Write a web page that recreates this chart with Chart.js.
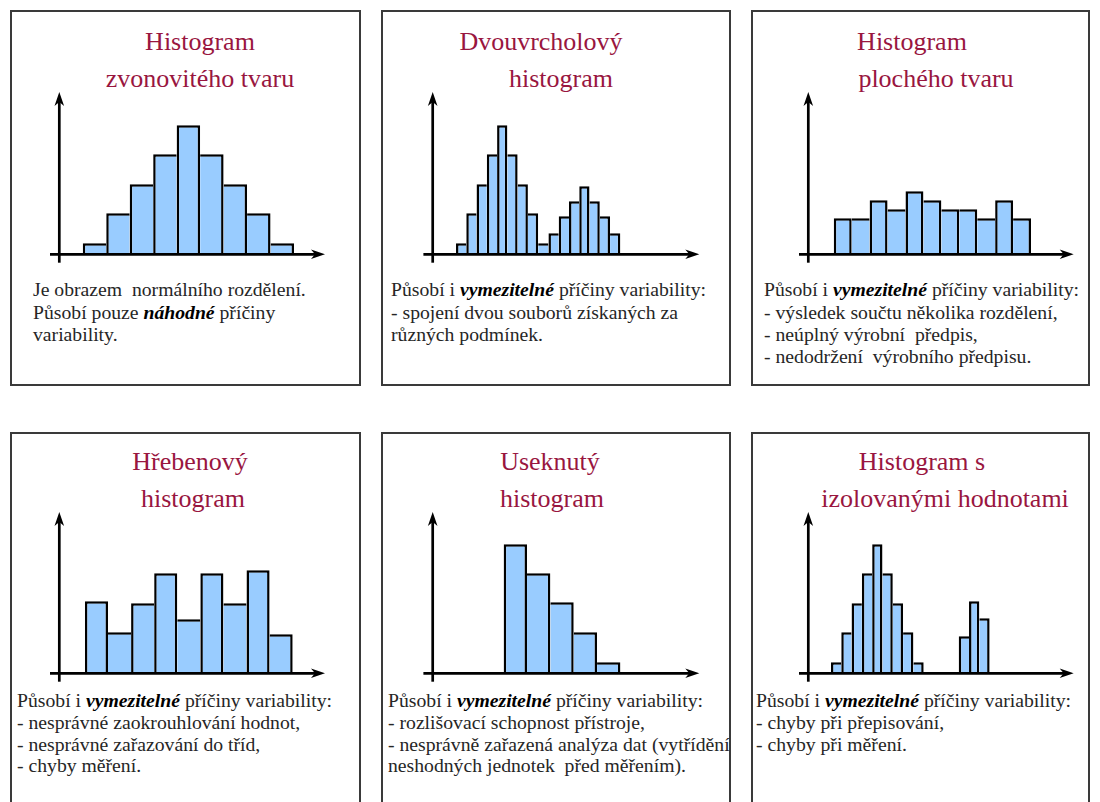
<!DOCTYPE html>
<html>
<head>
<meta charset="utf-8">
<script src="https://cdn.jsdelivr.net/npm/chart.js@4.4.1/dist/chart.umd.min.js"></script>
<style>
html,body{margin:0;padding:0;background:#fff;}
#page{position:relative;width:1100px;height:802px;overflow:hidden;font-family:'Liberation Serif','DejaVu Serif','Times New Roman',Times,serif;}
.box{position:absolute;border:2px solid #3a3a3a;box-sizing:border-box;}
.tline{position:absolute;color:#99163f;font-size:26px;line-height:37px;text-align:center;white-space:nowrap;width:400px;}
.desc{position:absolute;color:#262626;font-size:19.7px;white-space:nowrap;}
.desc b{font-style:italic;color:#000;}
canvas{position:absolute;}
</style>
</head>
<body>
<div id="page"></div>
<script>
// ---------- data ----------
const titles = [
  ["Histogram", "zvonovitého tvaru"],
  ["Dvouvrcholový", "histogram"],
  ["Histogram", "plochého tvaru"],
  ["Hřebenový", "histogram"],
  ["Useknutý", "histogram"],
  ["Histogram s", "izolovanými hodnotami"]
];
const descriptions = [
  ["Je obrazem  normálního rozdělení.", "Působí pouze *náhodné* příčiny", "variability."],
  ["Působí i *vymezitelné* příčiny variability:", "- spojení dvou souborů získaných za", "různých podmínek."],
  ["Působí i *vymezitelné* příčiny variability:", "- výsledek součtu několika rozdělení,", "- neúplný výrobní  předpis,", "- nedodržení  výrobního předpisu."],
  ["Působí i *vymezitelné* příčiny variability:", "- nesprávné zaokrouhlování hodnot,", "- nesprávné zařazování do tříd,", "- chyby měření."],
  ["Působí i *vymezitelné* příčiny variability:", "- rozlišovací schopnost přístroje,", "- nesprávně zařazená analýza dat (vytřídění", "neshodných jednotek  před měřením)."],
  ["Působí i *vymezitelné* příčiny variability:", "- chyby při přepisování,", "- chyby při měření."]
];
// class positions (bin centres) and frequencies
const bins1 = [1, 2, 3, 4, 5, 6, 7, 8, 9];
const freq1 = [11, 41, 70, 100, 129, 100, 70, 41, 11];
const bins2 = [1, 2, 3, 4, 5, 6, 7, 8, 9, 10, 11, 12, 13, 14, 15, 16];
const freq2 = [11, 41, 70, 100, 129, 100, 70, 41, 11, 21, 38, 53, 68, 53, 38, 21];
const bins3 = [1, 2, 3, 4, 5, 6, 7, 8, 9, 10, 11];
const freq3 = [36, 36, 54, 45, 63, 54, 45, 45, 36, 54, 36];
const bins4 = [1, 2, 3, 4, 5, 6, 7, 8, 9];
const freq4 = [72, 41, 70, 100, 54, 100, 70, 103, 39];
const bins5 = [1, 2, 3, 4, 5];
const freq5 = [129, 100, 71, 41, 11];
const bins6 = [1, 2, 3, 4, 5, 6, 7, 8, 9, 13.4, 14.4, 15.4];
const freq6 = [11, 41, 70, 100, 129, 100, 70, 41, 11, 37, 72, 55];

const series = [[bins1, freq1], [bins2, freq2], [bins3, freq3], [bins4, freq4], [bins5, freq5], [bins6, freq6]];

// ---------- layout ----------
const boxes = [
  {l: 10, t: 10, w: 351, h: 376}, {l: 381, t: 10, w: 350, h: 376}, {l: 751, t: 10, w: 339, h: 376},
  {l: 10, t: 432, w: 351, h: 380}, {l: 381, t: 432, w: 350, h: 380}, {l: 751, t: 432, w: 339, h: 380}
];
// centre x of each title line, top of first line
const titlePos = [
  {cx: [200, 200], t: 23}, {cx: [541, 561], t: 23}, {cx: [912, 936], t: 23},
  {cx: [190, 193], t: 443}, {cx: [550, 552], t: 443}, {cx: [922, 945], t: 443}
];
const descPos = [
  {l: 33, t: 278.3, lh: 22.5}, {l: 391, t: 278.3, lh: 22.5}, {l: 764, t: 278.3, lh: 22.3},
  {l: 17, t: 690, lh: 21.8}, {l: 388, t: 690, lh: 21.8}, {l: 756, t: 690, lh: 21.8}
];
// canvas rectangles, axis origin (ax, base), arrow tips (tipX, tipY), x range
const plots = [
  {l: 10, t: 85, w: 351, h: 185, ax: 59.3, base: 254.3, tipX: 325, tipY: 92, xmin: -0.5, xmax: 10.82},
  {l: 381, t: 85, w: 350, h: 185, ax: 432.7, base: 254.3, tipX: 699.3, tipY: 92, xmin: -1.77, xmax: 24.19},
  {l: 751, t: 85, w: 339, h: 185, ax: 808.3, base: 254.3, tipX: 1073.7, tipY: 92, xmin: -0.92, xmax: 13.88},
  {l: 10, t: 500, w: 351, h: 190, ax: 59.3, base: 673.3, tipX: 325, tipY: 512, xmin: -0.61, xmax: 10.9},
  {l: 381, t: 500, w: 350, h: 190, ax: 432.7, base: 673.3, tipX: 699.3, tipY: 512, xmin: -2.54, xmax: 8.88},
  {l: 751, t: 500, w: 339, h: 190, ax: 808.3, base: 673.3, tipX: 1073.7, tipY: 512, xmin: -1.70, xmax: 24.06}
];

const page = document.getElementById('page');
function esc(s){return s.replace(/&/g,'&amp;').replace(/</g,'&lt;');}

boxes.forEach(b => {
  const d = document.createElement('div');
  d.className = 'box';
  Object.assign(d.style, {left: b.l + 'px', top: b.t + 'px', width: b.w + 'px', height: b.h + 'px'});
  page.appendChild(d);
});
titles.forEach((lines, i) => {
  const p = titlePos[i];
  lines.forEach((txt, k) => {
    const d = document.createElement('div');
    d.className = 'tline';
    Object.assign(d.style, {left: (p.cx[k] - 200) + 'px', top: (p.t + 37 * k) + 'px'});
    d.textContent = txt;
    page.appendChild(d);
  });
});
descriptions.forEach((lines, i) => {
  const d = document.createElement('div');
  d.className = 'desc';
  const p = descPos[i];
  Object.assign(d.style, {left: p.l + 'px', top: p.t + 'px', lineHeight: p.lh + 'px'});
  d.innerHTML = lines.map(s => esc(s).replace(/\*([^*]+)\*/g, '<b>$1</b>').replace(/  /g, ' &nbsp;')).join('<br>');
  page.appendChild(d);
});

// ---------- axes with arrows ----------
const arrowAxes = {
  id: 'arrowAxes',
  afterDatasetsDraw(chart) {
    const {ctx, chartArea: a} = chart;
    ctx.save();
    ctx.strokeStyle = '#000';
    ctx.fillStyle = '#000';
    ctx.lineWidth = 2.7;
    ctx.lineCap = 'butt';
    ctx.beginPath();
    ctx.moveTo(a.left - 9.3, a.bottom);
    ctx.lineTo(a.right - 8, a.bottom);
    ctx.stroke();
    ctx.beginPath();
    ctx.moveTo(a.left, a.bottom + 8.4);
    ctx.lineTo(a.left, a.top + 8);
    ctx.stroke();
    ctx.beginPath();
    ctx.moveTo(a.right, a.bottom);
    ctx.lineTo(a.right - 14, a.bottom - 4.8);
    ctx.lineTo(a.right - 10, a.bottom);
    ctx.lineTo(a.right - 14, a.bottom + 4.8);
    ctx.closePath();
    ctx.fill();
    ctx.beginPath();
    ctx.moveTo(a.left, a.top);
    ctx.lineTo(a.left - 4.8, a.top + 14);
    ctx.lineTo(a.left, a.top + 10);
    ctx.lineTo(a.left + 4.8, a.top + 14);
    ctx.closePath();
    ctx.fill();
    ctx.restore();
  }
};

const BW = 2.5;
function borderFor(xs, ys) {
  return (c) => {
    const i = c.dataIndex;
    if (i === undefined) return BW;
    const adjPrev = i > 0 && Math.abs(xs[i] - xs[i - 1] - 1) < 0.01;
    const adjNext = i < xs.length - 1 && Math.abs(xs[i + 1] - xs[i] - 1) < 0.01;
    const left = (!adjPrev || ys[i - 1] < ys[i]) ? BW : 0;
    const right = (!adjNext || ys[i + 1] <= ys[i]) ? BW : 0;
    return {top: BW, bottom: 0, left, right};
  };
}

plots.forEach((p, i) => {
  const [xs, ys] = series[i];
  const cv = document.createElement('canvas');
  cv.width = p.w; cv.height = p.h;
  Object.assign(cv.style, {left: p.l + 'px', top: p.t + 'px', width: p.w + 'px', height: p.h + 'px'});
  page.appendChild(cv);
  const pad = {
    left: p.ax - p.l,
    right: (p.l + p.w) - p.tipX,
    top: p.tipY - p.t,
    bottom: (p.t + p.h) - p.base
  };
  new Chart(cv, {
    type: 'bar',
    data: {
      datasets: [{
        data: xs.map((x, k) => ({x: x, y: ys[k]})),
        backgroundColor: '#99ccff',
        borderColor: '#000',
        borderWidth: borderFor(xs, ys),
        borderSkipped: false,
        barPercentage: 1,
        categoryPercentage: 1,
        inflateAmount: 0
      }]
    },
    options: {
      responsive: false,
      animation: false,
      devicePixelRatio: 1,
      events: [],
      layout: {padding: pad},
      plugins: {legend: {display: false}, tooltip: {enabled: false}, title: {display: false}},
      scales: {
        x: {type: 'linear', min: p.xmin, max: p.xmax, display: false, afterBuildTicks: s => { s.ticks = []; }},
        y: {min: 0, max: p.base - p.tipY, display: false, afterBuildTicks: s => { s.ticks = []; }}
      }
    },
    plugins: [arrowAxes]
  });
});
</script>
</body>
</html>
